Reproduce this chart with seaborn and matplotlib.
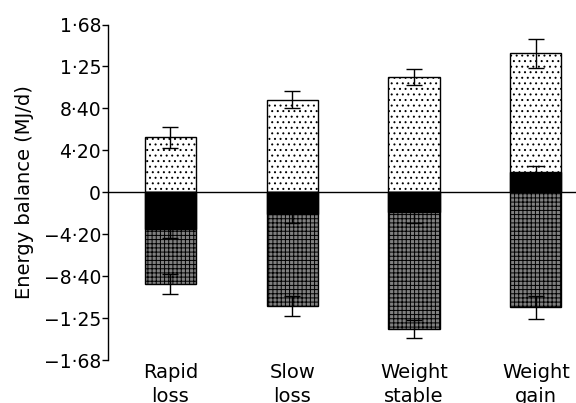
import numpy as np
import pandas as pd
import matplotlib
matplotlib.use("Agg")
import matplotlib.pyplot as plt
import seaborn as sns

groups = ["Rapid\nloss", "Slow\nloss", "Weight\nstable", "Weight\ngain"]
intake = [5.52, 9.28, 11.58, 13.92]
intake_se = [1.05, 0.87, 0.80, 1.45]
stores = [-3.68, -2.18, -2.02, 1.98]
stores_se = [0.87, 0.94, 1.06, 0.67]
expenditure = [-9.18, -11.42, -13.68, -11.52]
expenditure_se = [0.97, 0.98, 0.92, 1.15]
ytick_vals = [16.8, 12.6, 8.4, 4.2, 0, -4.2, -8.4, -12.6, -16.8]
ytick_labels = ["1\u00b768", "1\u00b725", "8\u00b740", "4\u00b720", "0",
                "\u22124\u00b720", "\u22128\u00b740", "\u22121\u00b725", "\u22121\u00b768"]

df = pd.DataFrame({"group": groups, "intake": intake, "stores": stores,
                   "expenditure": expenditure})

sns.set_style("ticks")
plt.rcParams["font.family"] = ["DejaVu Sans"]
plt.rcParams["hatch.linewidth"] = 0.7
plt.rcParams["text.color"] = "black"
plt.rcParams["axes.labelcolor"] = "black"
plt.rcParams["xtick.color"] = "black"
plt.rcParams["ytick.color"] = "black"

fig = plt.figure(figsize=(5.76, 4.03), dpi=100)
ax = fig.add_axes([108 / 576, 1 - 360 / 403, 1 - 108 / 576, (360 - 24.5) / 403])

w = 0.42
sns.barplot(data=df, x="group", y="intake", color="white", edgecolor="black",
            linewidth=1, hatch="...", width=w, errorbar=None, ax=ax, zorder=2)
sns.barplot(data=df, x="group", y="expenditure", color="#808080", edgecolor="black",
            linewidth=1, hatch="++++", width=w, errorbar=None, ax=ax, zorder=2)
sns.barplot(data=df, x="group", y="stores", color="black", edgecolor="black",
            linewidth=1, width=w, errorbar=None, ax=ax, zorder=3)

xpos = np.arange(len(groups))
for vals, se in [(intake, intake_se), (stores, stores_se), (expenditure, expenditure_se)]:
    ax.errorbar(xpos, vals, yerr=se, fmt="none", ecolor="black", elinewidth=1,
                capsize=5.5, capthick=1, zorder=4)

ax.axhline(0, color="black", lw=1, zorder=5)

ax.set_ylim(-16.8, 16.8)
ax.set_xlim(-0.513, 3.33)
ax.set_yticks(ytick_vals)
ax.set_yticklabels(ytick_labels)
ax.set_xlabel("")
ax.set_ylabel("Energy balance (MJ/d)", fontsize=14, labelpad=7, color="black")
ax.tick_params(axis="y", length=4, width=1, pad=1, labelsize=13.5, colors="black")
ax.tick_params(axis="x", length=0, pad=2, labelsize=14, colors="black")
for lab in ax.get_xticklabels():
    lab.set_linespacing(1.35)
for s in ["top", "right", "bottom"]:
    ax.spines[s].set_visible(False)
ax.spines["left"].set_linewidth(1)
ax.spines["left"].set_color("black")

fig.savefig("out.png", dpi=100)
